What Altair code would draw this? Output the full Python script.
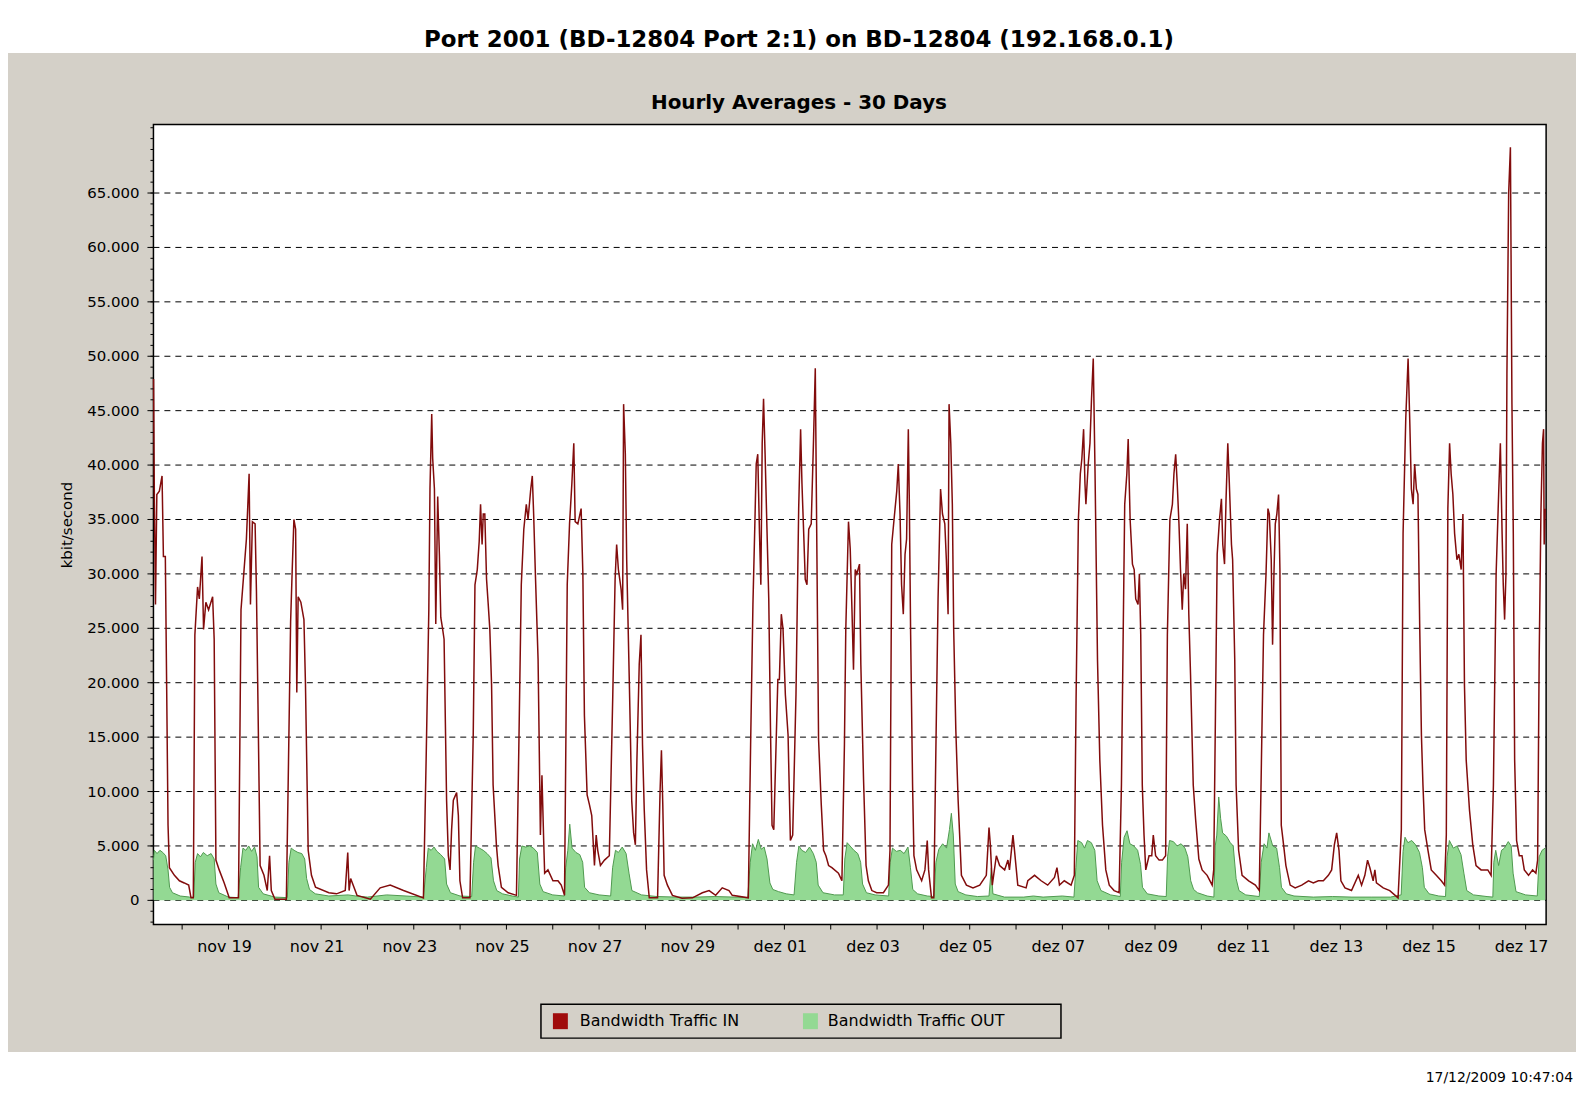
import json
import altair as alt
import pandas as pd

# ---------------- data (hours since 2009-11-17 00:00, kbit/second) ----------------
in_hours = [9.2, 9.6, 10.2, 10.9, 12.2, 13.6, 14.3, 15.3, 16.0, 16.7, 17.4, 20.0, 22.6, 25.1, 27.4, 28.6, 29.8,
            30.6, 32.0, 32.9, 34.3, 35.1, 36.3, 37.7, 39.8, 40.6, 41.5, 43.2, 45.8, 48.4, 53.2,
            54.5, 56.1, 57.3, 58.7, 59.4, 60.4, 61.8, 62.5, 63.3, 64.4, 66.4, 68.1, 69.3, 70.2, 72.1, 78.0,
            79.0, 80.2, 81.0, 81.9, 82.8, 83.4, 84.1, 85.5, 87.1, 87.9, 89.3, 91.0, 93.1, 100.0,
            104.0, 108.5, 109.8, 110.5, 111.3, 114.6, 121.5, 126.6, 131.8, 138.7, 149.0,
            150.4, 151.8, 152.4, 153.3, 153.8, 154.7, 155.4, 156.4, 157.3, 158.0, 158.8, 159.7, 161.0, 161.9,
            162.8, 163.6, 164.5, 166.2, 167.1, 167.9, 169.3, 173.1,
            174.8, 175.7, 176.9, 177.9, 178.6, 179.4, 180.0, 180.8, 181.7, 182.5, 183.4, 184.3, 185.1, 186.8,
            187.7, 189.4, 192.9, 197.2,
            198.4, 199.7, 201.0, 202.3, 203.2, 204.6, 205.4, 206.1, 207.0, 208.4, 209.6, 210.4, 211.3, 211.8,
            213.5, 216.1, 218.7, 220.4, 222.1,
            223.5, 224.7, 225.9, 226.9, 227.6, 229.0, 230.7, 231.6, 232.4, 233.8, 235.0, 236.2, 237.6, 238.5,
            239.3, 240.7, 242.8, 245.3,
            247.1, 248.3, 249.1, 250.0, 251.4, 252.2, 252.7, 253.6, 254.3, 255.7, 256.9, 257.9, 258.8, 259.6,
            260.8, 261.7, 262.5, 263.4, 264.6, 266.0, 270.3, 271.6, 272.3, 273.0, 273.7, 275.4, 278.0,
            283.0, 288.4, 293.5, 297.0, 300.4, 303.8, 307.3, 309.0, 317.3,
            318.5, 319.7, 320.7, 321.4, 322.2, 323.1, 323.8, 324.5, 325.2, 326.0, 326.9, 327.9, 328.8, 329.6,
            330.5, 331.4, 332.6, 333.4, 334.4, 335.3, 336.5, 337.9, 339.1, 340.3,
            342.0, 343.4, 344.4, 345.1, 346.0, 346.8, 347.7, 348.6, 349.9, 351.1, 352.0, 352.7, 353.7, 355.1,
            356.3, 357.5, 358.9, 360.6, 364.0, 365.8,
            367.1, 367.8, 369.2, 370.1, 371.0, 371.8, 372.7, 373.5, 374.9, 375.6, 377.0, 378.3, 379.5, 381.3,
            383.8, 387.3, 389.9, 390.7,
            391.6, 392.8, 394.2, 395.0, 395.9, 396.7, 397.6, 398.5, 399.3, 400.2, 400.7, 401.4, 402.4, 403.1,
            404.5, 407.1, 408.8, 410.0, 410.7, 412.2, 413.4,
            414.4, 415.6, 416.9, 417.9, 419.1, 419.9, 420.8, 421.3, 422.2, 423.0, 423.7, 424.8, 426.0, 427.7,
            430.3, 433.7, 437.2, 440.6, 442.0, 442.7, 443.7, 445.8, 447.5, 450.1, 451.8, 452.6, 454.4, 455.2,
            456.9, 461.2, 462.1, 465.6, 469.0, 472.4, 475.9, 477.2, 478.5, 481.0, 484.5, 486.2,
            487.1, 488.3, 489.3, 490.1, 491.0, 491.7, 492.2, 493.4, 494.3, 495.1, 496.0, 496.9, 498.2, 499.4,
            500.8, 502.5, 504.3, 506.8, 509.4,
            510.6, 511.5, 512.3, 513.4, 514.1, 515.1, 516.3, 517.2, 518.0, 519.2, 519.9, 520.6, 521.4, 522.3,
            523.2, 524.9, 526.3, 527.1, 528.3, 530.1, 531.8, 533.5,
            534.4, 535.7, 537.0, 537.8, 538.7, 539.5, 540.4, 541.2, 542.1, 542.9, 543.8, 544.7, 545.5, 546.4,
            547.8, 549.0, 550.7, 552.4, 555.0, 557.6, 558.4,
            559.3, 560.2, 561.4, 562.4, 563.1, 564.0, 564.8, 565.7, 566.5, 567.6, 568.2, 569.3, 570.0, 571.3,
            573.1, 576.5, 580.0, 582.0,
            583.0, 584.2, 585.5, 586.5, 587.2, 588.2, 588.9, 589.6, 590.3, 591.1, 592.0, 592.7, 593.4, 594.6,
            595.8, 598.0, 600.6, 604.0, 607.5, 610.0, 612.6, 615.2, 617.8, 619.5, 620.9, 622.1, 623.3, 624.3,
            626.4, 629.8, 633.3, 635.0, 636.7, 638.1, 639.3, 641.0, 641.9, 642.7, 646.2, 649.6, 653.9,
            655.6, 656.5, 657.9, 659.1, 660.0, 660.8, 661.7, 662.5, 663.4, 664.2, 665.1, 666.0, 666.8, 667.7,
            669.4, 671.1, 673.7, 676.3, 678.0,
            678.9, 679.7, 680.6, 681.4, 682.3, 683.2, 684.4, 685.4, 686.6, 687.5, 688.3, 689.2, 690.9, 692.6,
            694.3, 696.9, 700.4, 702.1,
            703.3, 704.7, 706.0, 706.9, 707.8, 708.4, 709.1, 709.8, 710.3, 711.2, 712.1, 712.9, 713.6, 714.3,
            715.3, 716.7, 718.1, 719.3, 721.5, 723.6, 725.3, 726.2,
            727.0, 727.9, 728.7, 729.3, 729.6, 730.1]
in_kbps = [47900, 37300, 27200, 37300, 37600, 39000, 31600, 31600, 19400, 6900, 3000, 2300, 1800, 1600, 1400, 230, 230,
           24400, 28800, 27700, 31600, 24900, 27400, 26700, 27900, 24000, 3700, 2800, 1600, 230, 230,
           26700, 30400, 33200, 39200, 27200, 34800, 34600, 28400, 18000, 3200, 2300, 900, 4100, 900, 100, 100,
           11500, 25600, 30200, 35000, 34100, 19100, 27900, 27400, 25800, 19800, 4600, 2300, 1200, 700,
           600, 900, 4400, 900, 2000, 460, 100, 1150, 1400, 900, 230,
           12900, 26700, 37800, 44700, 40600, 37800, 25400, 37100, 31600, 26000, 25100, 24000, 9200, 4100,
           2800, 6500, 9200, 9900, 7800, 1800, 230, 230,
           15200, 29000, 30400, 33000, 36400, 32700, 35500, 35500, 29500, 27400, 24900, 19800, 10600, 5100,
           3200, 1200, 700, 460,
           13800, 29000, 34100, 36400, 35000, 37800, 39000, 35500, 30000, 22100, 6000, 11500, 5500, 2500,
           2800, 1800, 1800, 1400, 460,
           29000, 34600, 38300, 42000, 34800, 34600, 36000, 30000, 17000, 9700, 8800, 7800, 3200, 6000,
           4600, 3200, 3700, 4100,
           18900, 29500, 32700, 30400, 28600, 26700, 45600, 41000, 31300, 19800, 9200, 6200, 5100, 12900,
           21700, 24400, 14300, 8300, 2800, 230, 230, 10100, 13800, 8800, 2300, 1400, 460,
           200, 230, 700, 900, 460, 1150, 900, 460, 230,
           14300, 27200, 34600, 40100, 41000, 33700, 29000, 42000, 46100, 41000, 34600, 27700, 15700, 6900,
           6500, 12400, 20300, 20300, 26300, 24900, 18900, 15200, 5500, 6000,
           18900, 36000, 43300, 38300, 33700, 29500, 29000, 34100, 34600, 42400, 48900, 34600, 14800, 8800,
           4600, 4100, 3200, 3000, 2500, 1800,
           14300, 24900, 34800, 32300, 26700, 21200, 30400, 30000, 30900, 21700, 11100, 3200, 1800, 900,
           700, 700, 1400, 4600,
           32700, 35000, 37600, 40100, 35500, 29000, 26300, 31800, 33200, 43300, 36900, 24400, 10600, 4100,
           2800, 1800, 2800, 5500, 2800, 230, 230,
           12900, 27700, 37800, 35500, 34600, 31300, 26300, 45600, 42000, 36400, 24900, 15700, 9200, 2300,
           1400, 1150, 1400, 2300, 6700, 5100, 1400, 4100, 3200, 2800, 3700, 2800, 6000, 4600,
           1400, 1150, 1800, 2300, 1800, 1400, 2100, 3000, 1400, 1800, 1400, 2300,
           18400, 35000, 39200, 40600, 43300, 38300, 36400, 40100, 42000, 46100, 49800, 39600, 22100, 12900,
           6900, 2800, 1400, 900, 700,
           10600, 24400, 36400, 39200, 42400, 35000, 30900, 30400, 27700, 27200, 30000, 24400, 10600, 6000,
           2800, 4100, 4100, 6000, 4100, 3700, 3700, 4100,
           24400, 35000, 36400, 39200, 41000, 38300, 34600, 30400, 26700, 30000, 28600, 34600, 26300, 20700,
           10600, 7500, 3800, 2800, 2300, 1400, 2800,
           17100, 31800, 35000, 36900, 32700, 30900, 36900, 42000, 38300, 32700, 31300, 22100, 10600, 4600,
           2300, 1800, 1400, 900,
           11500, 24400, 30000, 36000, 35500, 31300, 23500, 30000, 34600, 35500, 37300, 30400, 6900, 5100,
           3200, 1400, 1150, 1400, 1800, 1600, 1800, 1800, 2300, 2800, 5100, 6200, 4600, 1800,
           1150, 900, 2300, 1400, 2300, 3700, 3000, 1800, 2800, 1600, 1150, 900, 230,
           6500, 33700, 44300, 49800, 43800, 37800, 36400, 40100, 37800, 37300, 25400, 15200, 10600, 6500,
           4600, 2800, 2300, 1800, 1400,
           6000, 36000, 42000, 39200, 37300, 33700, 31300, 31800, 30400, 35500, 19800, 12900, 8300, 5100,
           3200, 2800, 2800, 2300,
           10600, 30000, 37300, 42000, 33700, 29000, 25800, 30000, 48400, 65000, 69200, 45600, 33700, 12900,
           5500, 4100, 4100, 2800, 2300, 2800, 2500, 3700,
           22100, 35500, 42000, 43300, 32700, 36000]

out_hours = [9.2, 9.6, 11.0, 12.5, 14.0, 15.5, 16.7, 17.5, 19.0, 23.0, 28.0, 30.0, 30.8, 32.0, 33.5, 35.0, 37.0,
             39.0, 40.6, 41.5, 43.0, 48.0, 53.0, 54.3, 55.5, 57.0, 58.5, 60.0, 61.5, 62.8, 63.6, 66.0, 72.0,
             78.5, 79.3, 80.5, 82.0, 84.0, 86.0, 87.5, 88.5, 90.0, 93.0, 100.0, 110.0, 114.0, 120.0, 130.0,
             140.0, 149.0, 150.5, 151.5, 153.0, 154.5, 156.0, 158.0, 160.0, 161.0, 163.0, 168.0, 174.0, 175.0,
             176.0, 178.0, 180.0, 182.0, 184.0, 185.3, 187.0, 190.0, 195.0, 198.2, 198.8, 200.0, 202.0, 204.0,
             206.0, 208.0, 209.3, 211.0, 216.0, 222.0, 222.7, 223.8, 224.8, 226.0, 228.0, 230.0, 231.5, 232.5,
             235.0, 240.0, 246.0, 247.0, 248.5, 250.0, 252.0, 254.0, 255.5, 257.0, 262.0, 270.0, 280.0, 290.0,
             300.0, 310.0, 317.0, 318.3, 319.5, 321.0, 322.5, 324.0, 325.5, 327.0, 328.5, 330.0, 333.0, 337.0,
             341.0, 342.3, 343.5, 345.0, 347.0, 349.0, 351.0, 352.5, 353.5, 356.0, 362.0, 366.5, 367.3, 368.5,
             370.5, 372.0, 374.0, 375.5, 376.5, 378.5, 383.0, 390.0, 390.8, 392.0, 394.0, 396.0, 398.0, 400.0,
             401.3, 402.5, 405.0, 410.0, 413.5, 414.5, 416.0, 418.0, 420.0, 421.5, 422.5, 423.5, 424.5, 426.0,
             430.0, 436.0, 442.0, 443.2, 444.0, 450.0, 460.0, 465.0, 470.0, 480.0, 486.0, 487.0, 488.0, 490.0,
             491.5, 493.0, 495.0, 496.8, 498.0, 500.0, 505.0, 510.0, 510.7, 512.0, 513.5, 515.0, 517.0, 519.0,
             520.5, 521.5, 524.0, 530.0, 533.8, 534.5, 535.5, 537.5, 539.5, 541.5, 543.5, 545.0, 546.5, 548.0,
             550.0, 555.0, 558.5, 559.2, 560.0, 561.0, 562.0, 563.0, 565.0, 567.0, 568.5, 570.0, 571.5, 575.0,
             582.0, 583.0, 584.5, 586.0, 587.0, 589.0, 591.0, 592.5, 593.5, 596.0, 600.0, 610.0, 620.0, 630.0,
             640.0, 650.0, 655.5, 656.5, 657.5, 659.0, 661.0, 663.0, 665.0, 666.5, 667.5, 670.0, 675.0, 678.5,
             679.3, 680.5, 682.5, 684.5, 686.5, 688.0, 689.5, 693.0, 700.0, 703.0, 703.5, 704.5, 706.0, 707.5,
             709.0, 711.0, 712.5, 713.5, 715.0, 720.0, 726.0, 727.0, 728.5, 730.1]
out_kbps = [3700, 4600, 4300, 4600, 4400, 4100, 2800, 1200, 700, 400, 300, 300, 3500, 4300, 4000, 4400, 4100,
            4300, 3800, 1500, 700, 300, 250, 3000, 4800, 4600, 5000, 4500, 4900, 4000, 1200, 600, 300,
            250, 3500, 4800, 4600, 4400, 4300, 3800, 2000, 1000, 600, 400, 500, 400, 300, 500,
            400, 300, 3000, 4800, 4600, 4900, 4500, 4200, 3800, 1500, 700, 400, 350, 3500,
            5000, 4800, 4600, 4300, 3900, 1800, 900, 600, 400, 300, 3800, 5000, 4900, 5000,
            4800, 4400, 1500, 800, 500, 400, 3000, 4600, 7000, 4800, 4400, 4200, 3500, 1200,
            700, 500, 400, 3000, 4600, 4400, 4900, 4300, 2500, 900, 500, 350, 300, 300,
            350, 300, 250, 3500, 5200, 4600, 5600, 4700, 4900, 3800, 1600, 1000, 800, 600,
            500, 3500, 5000, 4600, 4400, 4900, 4300, 3500, 1400, 700, 500, 500, 3800, 5300,
            4900, 4600, 4300, 3500, 1500, 700, 500, 400, 3500, 4800, 4500, 4600, 4300, 4900,
            3000, 1000, 600, 400, 350, 3500, 4700, 5200, 4800, 6500, 8000, 6000, 1500, 800,
            500, 350, 400, 3000, 600, 300, 300, 400, 300, 400, 300, 3000, 5500, 5300,
            4800, 5500, 5300, 4600, 1800, 900, 500, 350, 3500, 5800, 6400, 5200, 5000, 4600,
            3300, 1200, 600, 400, 350, 4000, 5500, 5400, 5000, 5200, 4800, 4000, 1800, 1000,
            700, 400, 300, 5000, 6000, 9500, 7500, 6200, 5900, 5300, 5000, 2000, 900, 500,
            350, 3500, 5200, 4800, 6200, 5000, 4800, 3000, 1200, 600, 400, 300, 350, 300,
            300, 300, 500, 4500, 5800, 5300, 5500, 5100, 4400, 3000, 1200, 600, 400, 350,
            4000, 5500, 4800, 5000, 4200, 2500, 900, 500, 350, 300, 3500, 4600, 3200, 4600,
            4800, 5400, 5000, 2500, 800, 500, 400, 4000, 4600, 4800]

# axis ticks: one per day (nov 18 .. dez 17), labels every second day
x_tick_hours = [24 * (k + 1) for k in range(30)]
x_tick_labels = ["", "nov 19", "", "nov 21", "", "nov 23", "", "nov 25", "", "nov 27", "", "nov 29", "",
                 "dez 01", "", "dez 03", "", "dez 05", "", "dez 07", "", "dez 09", "", "dez 11", "",
                 "dez 13", "", "dez 15", "", "dez 17"]
y_tick_values = [0, 5000, 10000, 15000, 20000, 25000, 30000, 35000, 40000, 45000, 50000, 55000, 60000, 65000]
y_minor_ticks = list(range(-2000, 72000, 1000))

series_names = ["Bandwidth Traffic IN", "Bandwidth Traffic OUT"]
title_text = "Port 2001 (BD-12804 Port 2:1) on BD-12804 (192.168.0.1)"
subtitle_text = "Hourly Averages - 30 Days"
y_title = "kbit/second"
stamp_text = "17/12/2009 10:47:04"

# ---------------- styling ----------------
RED = "#820c0c"
RED_LEG = "#a00c0c"
GREEN = "#93d993"
GREEN_LINE = "#4f9a4f"
PANEL = "#d4d0c8"
FONT = "DejaVu Sans"

W, H = 1398, 803
x_dom = [9.14, 730.6]
y_dom = [-2224, 71286]
xs = alt.Scale(domain=x_dom, nice=False, zero=False)
ys = alt.Scale(domain=y_dom, nice=False, zero=False)

df_in = pd.DataFrame({"hour": in_hours, "kbps": in_kbps})
df_out = pd.DataFrame({"hour": out_hours, "kbps": out_kbps})
one = pd.DataFrame({"a": [0]})
minor = pd.DataFrame({"v": y_minor_ticks})
xtick_df = pd.DataFrame({"hour": x_tick_hours, "label": x_tick_labels})
ytick_df = pd.DataFrame({"v": y_tick_values})

# Axis (ticks, grid, labels) drawn from tick tables through the shared scales
grid = alt.Chart(ytick_df).mark_rule(color="black", strokeDash=[6, 5], strokeWidth=1, opacity=1).encode(
    y=alt.Y("v:Q", scale=ys, axis=None), x=alt.value(0), x2=alt.value(W))
ytick_major = alt.Chart(ytick_df).mark_rule(color="black", strokeWidth=1).encode(
    y=alt.Y("v:Q", scale=ys, axis=None), x=alt.value(-6), x2=alt.value(0))
ytick_minor = alt.Chart(minor).mark_rule(color="black", strokeWidth=1).encode(
    y=alt.Y("v:Q", scale=ys, axis=None), x=alt.value(-3), x2=alt.value(0))
ytick_text = alt.Chart(ytick_df).transform_calculate(
    lab="replace(format(datum.v, ','), ',', '.')"
).mark_text(font=FONT, fontSize=15, color="black", align="right", baseline="middle").encode(
    y=alt.Y("v:Q", scale=ys, axis=None), x=alt.value(-14), text="lab:N")
xtick_mark = alt.Chart(xtick_df).mark_rule(color="black", strokeWidth=1).encode(
    x=alt.X("hour:Q", scale=xs, axis=None), y=alt.value(H), y2=alt.value(H + 5))
xtick_text = alt.Chart(xtick_df).mark_text(font=FONT, fontSize=16, color="black", align="center",
                                           baseline="middle", dx=-4).encode(
    x=alt.X("hour:Q", scale=xs, axis=None), y=alt.value(H + 23), text="label:N")
ytitle = alt.Chart(one).mark_text(font=FONT, fontSize=15, color="black", angle=270, align="center",
                                  baseline="middle").encode(
    x=alt.value(-87), y=alt.value(402), text=alt.value(y_title))

top_band = alt.Chart(one).mark_rect(color="white").encode(
    x=alt.value(-160), x2=alt.value(1440), y=alt.value(-130), y2=alt.value(-72))
bottom_band = alt.Chart(one).mark_rect(color="white").encode(
    x=alt.value(-160), x2=alt.value(1440), y=alt.value(931), y2=alt.value(990))

out_area = alt.Chart(df_out).mark_area(color=GREEN, opacity=1).encode(
    x=alt.X("hour:Q", scale=xs, axis=None),
    y=alt.Y("kbps:Q", scale=ys, axis=None),
    y2=alt.datum(0),
)
out_line = alt.Chart(df_out).mark_line(color=GREEN_LINE, strokeWidth=1).encode(
    x=alt.X("hour:Q", scale=xs, axis=None),
    y=alt.Y("kbps:Q", scale=ys, axis=None),
)
in_line = alt.Chart(df_in).mark_line(color=RED, strokeWidth=1.5).encode(
    x=alt.X("hour:Q", scale=xs, axis=None),
    y=alt.Y("kbps:Q", scale=ys, axis=None),
)

title = alt.Chart(one).mark_text(font=FONT, fontSize=23, fontWeight="bold", color="black",
                                 align="center", baseline="middle").encode(
    x=alt.value(648), y=alt.value(-85), text=alt.value(title_text))
subtitle = alt.Chart(one).mark_text(font=FONT, fontSize=20, fontWeight="bold", color="black",
                                    align="center", baseline="middle").encode(
    x=alt.value(648), y=alt.value(-22), text=alt.value(subtitle_text))

legend_box = alt.Chart(one).mark_rect(fill=PANEL, stroke="black", strokeWidth=1.5).encode(
    x=alt.value(389), x2=alt.value(911), y=alt.value(883), y2=alt.value(917))
leg_red = alt.Chart(one).mark_rect(color=RED_LEG).encode(
    x=alt.value(401), x2=alt.value(416), y=alt.value(892), y2=alt.value(908))
leg_green = alt.Chart(one).mark_rect(color=GREEN).encode(
    x=alt.value(652), x2=alt.value(667), y=alt.value(892), y2=alt.value(908))
leg_in = alt.Chart(one).mark_text(font=FONT, fontSize=16, color="black", align="left",
                                  baseline="middle").encode(
    x=alt.value(428), y=alt.value(900), text=alt.value(series_names[0]))
leg_out = alt.Chart(one).mark_text(font=FONT, fontSize=16, color="black", align="left",
                                   baseline="middle").encode(
    x=alt.value(677), y=alt.value(900), text=alt.value(series_names[1]))
stamp = alt.Chart(one).mark_text(font=FONT, fontSize=14, color="black", align="right",
                                 baseline="middle").encode(
    x=alt.value(1425), y=alt.value(957), text=alt.value(stamp_text))

chart = alt.layer(
    top_band, bottom_band, grid, out_area, out_line, in_line,
    ytick_major, ytick_minor, ytick_text, xtick_mark, xtick_text, ytitle,
    title, subtitle, legend_box, leg_red, leg_green, leg_in, leg_out, stamp,
).properties(
    width=W, height=H,
    padding={"left": 146, "top": 115, "right": 30, "bottom": 163},
    autosize=alt.AutoSizeParams(type="none"),
    background=PANEL,
).configure_view(fill="white", stroke="black", strokeWidth=1.5)

chart.save("out.html", embed_options={"renderer": "svg", "actions": False})
